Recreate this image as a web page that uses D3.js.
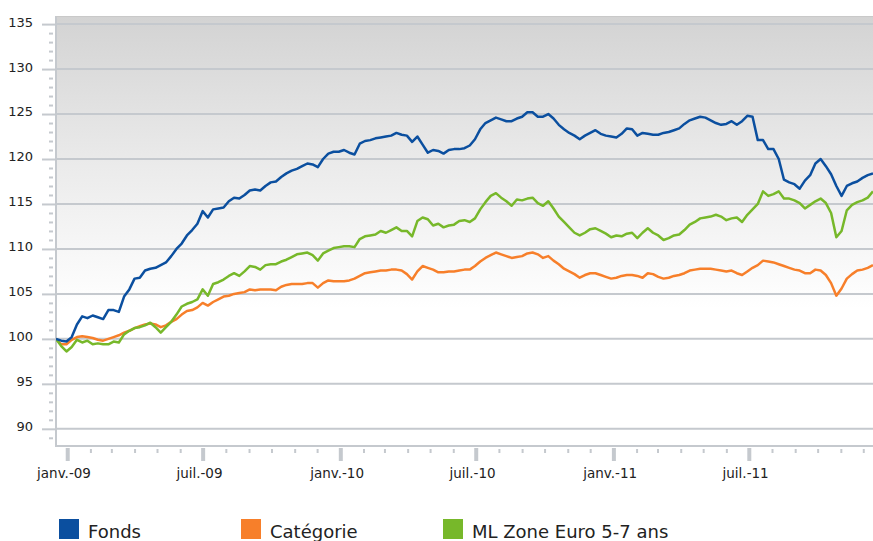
<!DOCTYPE html>
<html>
<head>
<meta charset="utf-8">
<script src="https://cdn.jsdelivr.net/npm/d3@7"></script>
<style>
    body { margin: 0; background: #fff; }
    text { font-family: "DejaVu Sans", Verdana, sans-serif; fill: #222; }
</style>
</head>
<body>
<svg id="chart" width="873" height="541"></svg>
<script>
// weekly observations, base 100
const START_DATE = '2008-12-17'
const STEP_DAYS = 7

const fonds = [
    100.0, 99.8, 99.7, 100.2, 101.6, 102.5, 102.3, 102.6, 102.4, 102.2,
    103.2, 103.2, 103.0, 104.7, 105.5, 106.7, 106.8, 107.6, 107.8, 107.9,
    108.2, 108.5, 109.2, 110.0, 110.6, 111.5, 112.1, 112.8, 114.2, 113.5,
    114.4, 114.5, 114.6, 115.3, 115.7, 115.6, 116.0, 116.5, 116.6, 116.5,
    117.0, 117.4, 117.5, 118.0, 118.4, 118.7, 118.9, 119.2, 119.5, 119.4,
    119.1, 120.0, 120.6, 120.8, 120.8, 121.0, 120.7, 120.5, 121.7, 122.0,
    122.1, 122.3, 122.4, 122.5, 122.6, 122.9, 122.7, 122.6, 121.9, 122.5,
    121.6, 120.7, 121.0, 120.9, 120.6, 121.0, 121.1, 121.1, 121.2, 121.5,
    122.2, 123.3, 124.0, 124.3, 124.6, 124.4, 124.2, 124.2, 124.5, 124.7,
    125.2, 125.2, 124.7, 124.7, 125.0, 124.5, 123.8, 123.3, 122.9, 122.6,
    122.2, 122.6, 122.9, 123.2, 122.8, 122.6, 122.5, 122.4, 122.8, 123.4,
    123.3, 122.6, 122.9, 122.8, 122.7, 122.7, 122.9, 123.0, 123.2, 123.4,
    123.9, 124.3, 124.5, 124.7, 124.6, 124.3, 124.0, 123.8, 123.9, 124.2,
    123.8, 124.2, 124.8, 124.7, 122.1, 122.1, 121.1, 121.1, 120.0, 117.7,
    117.4, 117.2, 116.7, 117.6, 118.2, 119.5, 120.0, 119.2, 118.3, 117.0,
    115.9, 117.0, 117.3, 117.5, 117.9, 118.2, 118.4
]

const categorie = [
    100.0, 99.4, 99.4, 99.9, 100.2, 100.3, 100.2, 100.1, 99.9, 99.8,
    100.0, 100.2, 100.4, 100.7, 100.9, 101.2, 101.4, 101.6, 101.7, 101.6,
    101.3, 101.5, 101.9, 102.2, 102.7, 103.1, 103.2, 103.5, 104.0, 103.7,
    104.1, 104.4, 104.7, 104.8, 105.0, 105.1, 105.2, 105.5, 105.4, 105.5,
    105.5, 105.5, 105.4, 105.8, 106.0, 106.1, 106.1, 106.1, 106.2, 106.2,
    105.7, 106.2, 106.5, 106.4, 106.4, 106.4, 106.5, 106.7, 107.0, 107.3,
    107.4, 107.5, 107.6, 107.6, 107.7, 107.7, 107.6, 107.2, 106.6, 107.5,
    108.1, 107.9, 107.7, 107.4, 107.4, 107.5, 107.5, 107.6, 107.7, 107.7,
    108.1, 108.6, 109.0, 109.3, 109.6, 109.4, 109.2, 109.0, 109.1, 109.2,
    109.5, 109.6, 109.4, 109.0, 109.2, 108.7, 108.3, 107.8, 107.5, 107.2,
    106.8, 107.1, 107.3, 107.3, 107.1, 106.9, 106.7, 106.8, 107.0, 107.1,
    107.1, 107.0, 106.8, 107.3, 107.2, 106.9, 106.7, 106.8, 107.0, 107.1,
    107.3, 107.6, 107.7, 107.8, 107.8, 107.8, 107.7, 107.6, 107.5, 107.6,
    107.3, 107.1, 107.5, 107.9, 108.2, 108.7, 108.6, 108.5, 108.3, 108.1,
    107.9, 107.7, 107.6, 107.3, 107.3, 107.7, 107.6, 107.1, 106.2, 104.8,
    105.6, 106.7, 107.2, 107.6, 107.7, 107.9, 108.2
]

const mlZoneEuro = [
    100.0, 99.2, 98.6, 99.1, 99.9, 99.6, 99.8, 99.4, 99.5, 99.4,
    99.4, 99.7, 99.6, 100.5, 100.9, 101.2, 101.3, 101.5, 101.8, 101.3,
    100.7, 101.3, 101.9, 102.7, 103.6, 103.9, 104.1, 104.4, 105.5, 104.8,
    106.1, 106.3, 106.6, 107.0, 107.3, 107.0, 107.5, 108.1, 108.0, 107.7,
    108.2, 108.3, 108.3, 108.6, 108.8, 109.1, 109.4, 109.5, 109.6, 109.3,
    108.7, 109.5, 109.8, 110.1, 110.2, 110.3, 110.3, 110.2, 111.1, 111.4,
    111.5, 111.6, 112.0, 111.8, 112.1, 112.4, 112.0, 112.0, 111.4, 113.1,
    113.5, 113.3, 112.6, 112.8, 112.4, 112.6, 112.7, 113.1, 113.2, 113.0,
    113.4, 114.4, 115.2, 115.9, 116.2, 115.7, 115.3, 114.8, 115.5, 115.4,
    115.6, 115.7, 115.1, 114.8, 115.3, 114.5, 113.6, 113.0, 112.4, 111.8,
    111.5, 111.8, 112.2, 112.3, 112.0, 111.7, 111.3, 111.5, 111.4, 111.7,
    111.8, 111.2, 111.8, 112.3, 111.8, 111.5, 111.0, 111.2, 111.5, 111.6,
    112.1, 112.7, 113.0, 113.4, 113.5, 113.6, 113.8, 113.6, 113.2, 113.4,
    113.5, 113.0, 113.8, 114.4, 115.0, 116.4, 115.9, 116.1, 116.4, 115.6,
    115.6, 115.4, 115.1, 114.5, 114.9, 115.3, 115.6, 115.1, 114.0, 111.3,
    112.0, 114.3, 114.9, 115.2, 115.4, 115.7, 116.4
]

const SERIES_NAMES = ['Fonds', 'Catégorie', 'ML Zone Euro 5-7 ans']
const SERIES_COLORS = ['#0b4f9f', '#f77f2a', '#77b82a']
const Y_TICKS = [90, 95, 100, 105, 110, 115, 120, 125, 130, 135]

const fr = d3.timeFormatLocale({
    dateTime: '%A %e %B %Y à %X', date: '%d/%m/%Y', time: '%H:%M:%S',
    periods: ['AM', 'PM'],
    days: ['dimanche', 'lundi', 'mardi', 'mercredi', 'jeudi', 'vendredi', 'samedi'],
    shortDays: ['dim.', 'lun.', 'mar.', 'mer.', 'jeu.', 'ven.', 'sam.'],
    months: ['janvier', 'février', 'mars', 'avril', 'mai', 'juin', 'juillet', 'août', 'septembre', 'octobre', 'novembre', 'décembre'],
    shortMonths: ['janv.', 'févr.', 'mars', 'avr.', 'mai', 'juin', 'juil.', 'août', 'sept.', 'oct.', 'nov.', 'déc.']
})

const svg = d3.select('#chart')
const box = { left: 56, right: 873, top: 16, bottom: 446 }

const parseDate = d3.timeParse('%Y-%m-%d')
const dates = fonds.map((_, i) => d3.timeDay.offset(parseDate(START_DATE), i * STEP_DAYS))
const series = [fonds, categorie, mlZoneEuro].map((vals, i) => ({
    name: SERIES_NAMES[i],
    color: SERIES_COLORS[i],
    points: vals.map((v, j) => ({ date: dates[j], value: v }))
}))

const x = d3.scaleTime().domain(d3.extent(dates)).range([box.left, box.right])
const y = d3.scaleLinear().domain([88.2, 135.9]).range([445, 16])

// background gradient
const defs = svg.append('defs')
const grad = defs.append('linearGradient')
    .attr('id', 'bg-grad').attr('x1', 0).attr('y1', 0).attr('x2', 0).attr('y2', 1)
grad.append('stop').attr('offset', '0%').attr('stop-color', '#d3d3d3')
grad.append('stop').attr('offset', '35%').attr('stop-color', '#ebebeb')
grad.append('stop').attr('offset', '68%').attr('stop-color', '#ffffff')
defs.append('clipPath').attr('id', 'plot-clip')
    .append('rect')
    .attr('x', box.left).attr('y', box.top)
    .attr('width', box.right - box.left).attr('height', box.bottom - box.top)

svg.append('rect')
    .attr('x', box.left).attr('y', box.top)
    .attr('width', box.right - box.left).attr('height', box.bottom - box.top)
    .attr('fill', 'url(#bg-grad)')

const GRID = '#c5c9ce'

// gridlines
svg.append('g')
    .selectAll('line')
    .data(Y_TICKS)
    .join('line')
    .attr('x1', box.left).attr('x2', box.right)
    .attr('y1', d => y(d)).attr('y2', d => y(d))
    .attr('stroke', GRID).attr('stroke-width', 2)

// y axis: minor then major
const minorY = d3.range(89, 136).filter(v => v % 5 !== 0)
svg.append('g')
    .attr('transform', 'translate(53,0)')
    .call(d3.axisLeft(y).tickValues(minorY).tickSize(4).tickFormat(''))
    .call(g => g.select('.domain').remove())
    .call(g => g.selectAll('line').attr('stroke', GRID).attr('stroke-width', 2))

svg.append('g')
    .attr('transform', `translate(${box.left},0)`)
    .call(d3.axisLeft(y).tickValues(Y_TICKS).tickSize(14).tickPadding(9))
    .call(g => g.select('.domain').remove())
    .call(g => g.selectAll('line').attr('stroke', GRID).attr('stroke-width', 2))
    .call(g => g.selectAll('text')
        .attr('dy', '0.15em')
        .style('font-size', '13px')
        .style('font-family', '"DejaVu Sans", Verdana, sans-serif')
        .attr('fill', '#222'))

// x axis: monthly minor ticks, half-year major ticks
const minorX = d3.timeMonth.range(x.domain()[0], x.domain()[1]).filter(d => d.getMonth() % 6 !== 0)
svg.append('g')
    .attr('transform', `translate(0,${box.bottom})`)
    .call(d3.axisBottom(x).tickValues(minorX).tickSize(7).tickFormat(''))
    .call(g => g.select('.domain').remove())
    .call(g => g.selectAll('line').attr('y1', 3).attr('stroke', GRID).attr('stroke-width', 2))

svg.append('g')
    .attr('transform', `translate(0,${box.bottom})`)
    .call(d3.axisBottom(x).ticks(d3.timeMonth.every(6)).tickSize(15).tickPadding(7)
        .tickFormat(fr.format('%b-%y')))
    .call(g => g.select('.domain').remove())
    .call(g => g.selectAll('line').attr('y1', 2).attr('stroke', GRID).attr('stroke-width', 4))
    .call(g => g.selectAll('text')
        .attr('dx', -3.7)
        .style('font-size', '13.5px')
        .style('font-family', '"DejaVu Sans", Verdana, sans-serif')
        .attr('fill', '#222'))

// frame
svg.append('line')
    .attr('x1', box.left).attr('x2', box.left).attr('y1', box.top).attr('y2', box.bottom + 1)
    .attr('stroke', GRID).attr('stroke-width', 2)
svg.append('line')
    .attr('x1', box.left - 1).attr('x2', box.right).attr('y1', box.bottom).attr('y2', box.bottom)
    .attr('stroke', GRID).attr('stroke-width', 2)
svg.append('line')
    .attr('x1', box.left).attr('x2', box.right).attr('y1', box.top + 0.5).attr('y2', box.top + 0.5)
    .attr('stroke', '#c9c9c9').attr('stroke-width', 1)

// lines
const line = d3.line().x(d => x(d.date)).y(d => y(d.value))
svg.append('g')
    .attr('clip-path', 'url(#plot-clip)')
    .selectAll('path')
    .data([series[1], series[2], series[0]])
    .join('path')
    .attr('d', d => line(d.points))
    .attr('fill', 'none')
    .attr('stroke', d => d.color)
    .attr('stroke-width', 2.5)
    .attr('stroke-linejoin', 'round')

// legend
const legendX = [59, 241, 443]
const legend = svg.append('g')
    .selectAll('g')
    .data(series)
    .join('g')
    .attr('transform', (d, i) => `translate(${legendX[i]},519)`)
legend.append('rect')
    .attr('width', 20).attr('height', 20)
    .attr('fill', d => d.color)
legend.append('text')
    .attr('x', 29).attr('y', 19)
    .style('font-size', '18px')
    .text(d => d.name)
</script>
</body>
</html>
